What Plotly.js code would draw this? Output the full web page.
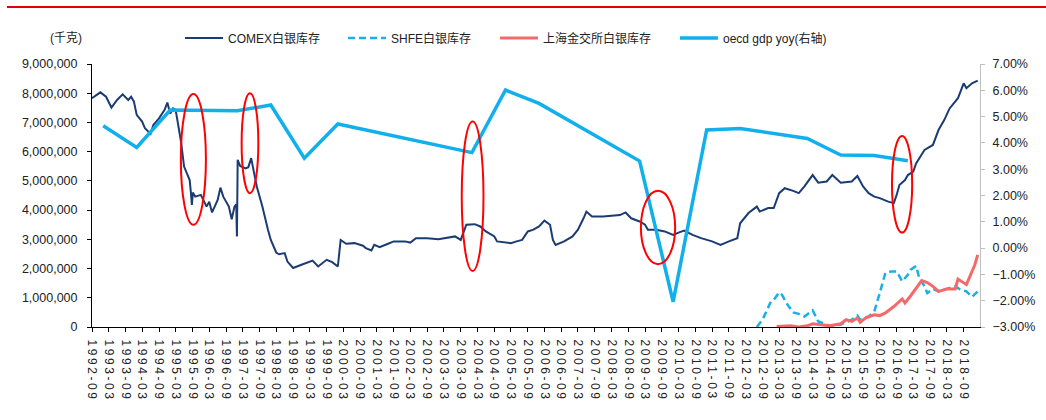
<!DOCTYPE html>
<html>
<head>
<meta charset="utf-8">
<script src="https://cdn.plot.ly/plotly-3.0.1.min.js"></script>
<style>
  html, body { margin: 0; padding: 0; background: #fff; }
  #chart { width: 1046px; height: 420px; }
  .xtick text { letter-spacing: 2.6px; }
</style>
</head>
<body>
<div id="chart"></div>
<script>
// ---------- DATA ----------
// COMEX silver inventory, millions of kg (axis is in 千克)
const comexDates = [
  "1992-09","1992-12","1993-02","1993-04","1993-06","1993-08","1993-10","1993-11","1993-12",
  "1994-01","1994-03","1994-04","1994-06","1994-07","1994-09","1994-11","1994-12",
  "1995-01","1995-02","1995-03","1995-04","1995-05","1995-06","1995-07","1995-08-01","1995-08-15","1995-08-25","1995-09-05","1995-10","1995-12",
  "1996-02","1996-03","1996-04","1996-06","1996-07","1996-08","1996-10","1996-11","1996-12-01","1996-12-20","1996-12-28",
  "1997-01-05","1997-02","1997-04","1997-05","1997-06","1997-07","1997-08","1997-10","1997-11","1997-12",
  "1998-01","1998-03","1998-04","1998-06","1998-07","1998-09","1998-12",
  "1999-02","1999-04","1999-06","1999-09","1999-11",
  "2000-01","2000-02","2000-04","2000-07","2000-10","2000-11",
  "2001-01","2001-02","2001-04","2001-07","2001-09",
  "2002-01","2002-03","2002-05","2002-09",
  "2003-01","2003-04","2003-07","2003-09","2003-11",
  "2004-02","2004-04","2004-06","2004-09","2004-10",
  "2005-01","2005-03","2005-05","2005-07","2005-09","2005-11",
  "2006-01","2006-03","2006-05","2006-06","2006-07","2006-10",
  "2007-01","2007-03","2007-05","2007-06","2007-08","2007-12",
  "2008-03","2008-06","2008-08","2008-10",
  "2009-01","2009-03","2009-04","2009-07","2009-10",
  "2010-01","2010-03","2010-05","2010-08","2010-11",
  "2011-03","2011-06","2011-09","2011-12",
  "2012-01","2012-04","2012-07","2012-08","2012-11",
  "2013-01","2013-03","2013-05","2013-08","2013-10","2013-12",
  "2014-03","2014-05","2014-08","2014-10",
  "2015-01","2015-05","2015-07","2015-09","2015-11",
  "2016-01","2016-03","2016-06","2016-08","2016-09","2016-10","2016-12",
  "2017-01","2017-03","2017-04","2017-07","2017-10","2017-12",
  "2018-02","2018-04","2018-07","2018-09","2018-10","2018-12","2019-02"
];
const comexMillionKg = [
  7.83,8.03,7.88,7.51,7.77,7.96,7.77,7.88,7.72,
  7.26,7.03,6.80,6.61,6.91,7.14,7.43,7.68,
  7.31,7.48,7.43,6.86,6.29,5.49,5.26,5.03,4.58,4.18,4.60,4.46,4.52,
  4.12,4.29,3.92,4.35,4.77,4.46,4.12,3.69,4.12,4.20,3.10,
  5.72,5.51,5.43,5.47,5.78,5.32,4.81,4.12,3.67,3.33,
  2.98,2.55,2.49,2.53,2.24,2.02,2.13,
  2.19,2.27,2.07,2.30,2.22,
  2.07,2.98,2.85,2.87,2.78,2.70,
  2.62,2.81,2.73,2.85,2.93,
  2.93,2.89,3.04,3.04,
  3.00,3.04,3.10,2.98,3.50,
  3.52,3.44,3.27,3.10,2.93,
  2.89,2.87,2.93,2.98,3.27,3.33,
  3.44,3.64,3.50,2.98,2.81,2.93,
  3.10,3.33,3.72,3.95,3.78,3.78,
  3.81,3.83,3.92,3.72,
  3.61,3.50,3.33,3.33,3.27,
  3.15,3.23,3.30,3.15,3.04,
  2.93,2.81,2.93,3.04,
  3.55,3.90,4.12,3.95,4.07,
  4.07,4.58,4.75,4.66,4.58,4.81,
  5.20,4.94,4.98,5.20,
  4.94,4.98,5.17,4.81,4.58,
  4.46,4.41,4.29,4.24,4.52,4.86,5.03,
  5.20,5.32,5.60,6.06,6.23,6.74,
  7.08,7.48,7.83,8.34,8.17,8.34,8.43
];

// SHFE silver inventory, millions of kg
const shfeDates = [
  "2012-07","2012-09","2012-12","2013-01","2013-03","2013-04","2013-06","2013-08","2013-10","2013-12",
  "2014-03","2014-05","2014-08","2014-10",
  "2015-01","2015-03","2015-05","2015-07","2015-08","2015-11",
  "2016-01","2016-03","2016-05","2016-07","2016-09","2016-11",
  "2017-01","2017-02","2017-04","2017-05","2017-07","2017-08","2017-10","2017-12",
  "2018-03","2018-06","2018-08","2018-10","2018-12","2019-02"
];
const shfeMillionKg = [
  0.00,0.25,0.87,0.93,1.18,1.10,0.76,0.50,0.45,0.36,
  0.57,0.19,0.08,0.02,
  0.08,0.16,0.25,0.39,0.25,0.36,
  0.53,1.16,1.85,1.90,1.90,1.56,
  1.79,1.96,2.09,1.73,1.39,1.16,1.30,1.22,
  1.30,1.39,1.27,1.22,1.03,1.22
];

// Shanghai Gold Exchange silver inventory, millions of kg
const sgeDates = [
  "2013-02","2013-07","2013-10","2014-01","2014-03","2014-05","2014-09",
  "2015-01","2015-03","2015-05","2015-07","2015-08","2015-10",
  "2016-01","2016-03","2016-05","2016-08","2016-11","2016-12",
  "2017-02","2017-04","2017-06","2017-08","2017-10","2017-12",
  "2018-03","2018-06","2018-07","2018-10","2018-12","2019-01","2019-02"
];
const sgeMillionKg = [
  0.02,0.04,0.00,0.04,0.11,0.08,0.04,
  0.11,0.25,0.19,0.31,0.16,0.31,
  0.42,0.39,0.48,0.70,0.96,0.82,
  1.07,1.33,1.59,1.52,1.39,1.22,
  1.30,1.30,1.64,1.45,1.90,2.13,2.47
];

// OECD GDP yoy, % (right axis) - visible vertices only
const oecdDates = [
  "1993-01","1994-01","1995-01","1997-01","1998-01","1999-01","2000-01","2004-01",
  "2005-01","2006-01","2009-01","2010-01","2011-01","2012-01","2014-01","2015-01","2016-01","2017-01"
];
const oecdPct = [
  4.65,3.83,5.25,5.22,5.44,3.42,4.72,3.63,
  6.01,5.50,3.31,-2.04,4.49,4.55,4.17,3.54,3.52,3.32
];

// Tick / text labels
const seriesNames = ["COMEX白银库存", "SHFE白银库存", "上海金交所白银库存", "oecd gdp yoy(右轴)"];
const unitLabel = "(千克)";

// ---------- CHART ----------
const FONT = "Liberation Sans, Arial, Noto Sans CJK SC, sans-serif";
const toKg = a => a.map(v => v * 1e6);

const traces = [
  { x: comexDates, y: toKg(comexMillionKg), name: seriesNames[0], type: "scatter", mode: "lines",
    line: { color: "#1B3C73", width: 2 }, legend: "legend", yaxis: "y" },
  { x: shfeDates, y: toKg(shfeMillionKg), name: seriesNames[1], type: "scatter", mode: "lines",
    line: { color: "#1AAFE6", width: 2.5, dash: "7px,4px" }, legend: "legend2", yaxis: "y" },
  { x: sgeDates, y: toKg(sgeMillionKg), name: seriesNames[2], type: "scatter", mode: "lines",
    line: { color: "#F46A6A", width: 3 }, legend: "legend3", yaxis: "y" },
  { x: oecdDates, y: oecdPct, name: seriesNames[3], type: "scatter", mode: "lines",
    line: { color: "#11B0EC", width: 3.5 }, legend: "legend4", yaxis: "y2" }
];

// red ellipses highlighting episodes (data coords)
const ell = (x0, x1, y0, y1) => ({
  type: "circle", xref: "x", yref: "y", x0: x0, x1: x1, y0: y0 * 1e6, y1: y1 * 1e6,
  line: { color: "#FF0000", width: 2 }, fillcolor: "rgba(0,0,0,0)", layer: "above"
});

const legendBase = (xpx) => ({
  x: (xpx - 97) / 888, xanchor: "left", y: 1.0987, yanchor: "middle",
  orientation: "h", bgcolor: "rgba(0,0,0,0)", borderwidth: 0, itemwidth: 38,
  font: { family: FONT, size: 12, color: "#222" }, itemclick: false, itemdoubleclick: false
});

const layout = {
  width: 1046, height: 420,
  margin: { l: 92, r: 66, t: 64, b: 93, pad: 0 },
  paper_bgcolor: "#fff", plot_bgcolor: "#fff",
  font: { family: FONT, size: 12, color: "#222" },
  showlegend: true,
  legend: legendBase(185),
  legend2: legendBase(348),
  legend3: legendBase(500),
  legend4: legendBase(680),
  xaxis: {
    type: "date", range: ["1992-09-01", "2019-02-26"],
    tick0: "1992-09-01", dtick: "M6", tickformat: "%Y-%m", tickangle: 90,
    showgrid: false, zeroline: false, showline: true, linecolor: "#000", linewidth: 1,
    ticks: "outside", ticklen: 4, tickcolor: "#000", tickwidth: 1, ticklabelstandoff: 5,
    tickfont: { family: FONT, size: 12, color: "#222" }, automargin: false
  },
  yaxis: {
    range: [0, 9e6], dtick: 1e6, tick0: 0, tickformat: ",d",
    showgrid: false, zeroline: false, showline: true, linecolor: "#000", linewidth: 1,
    ticks: "outside", ticklen: 4, tickcolor: "#000", ticklabelstandoff: 7,
    tickfont: { family: FONT, size: 12.5, color: "#222" }, automargin: false
  },
  yaxis2: {
    overlaying: "y", side: "right", range: [-3, 7], dtick: 1, tick0: -3,
    tickformat: ".2f", ticksuffix: "%",
    showgrid: false, zeroline: false, showline: true, linecolor: "#BFBFBF", linewidth: 1,
    ticks: "outside", ticklen: 4, tickcolor: "#BFBFBF", ticklabelstandoff: 5,
    tickfont: { family: FONT, size: 12.5, color: "#222" }, automargin: false
  },
  shapes: [
    ell("1995-04-27", "1996-01-25", 3.50, 7.97),
    ell("1997-02-17", "1997-08-18", 4.58, 8.00),
    ell("2003-09-12", "2004-05-06", 1.92, 7.03),
    ell("2009-01-15", "2010-01-23", 2.15, 4.66),
    ell("2016-07-12", "2017-02-17", 3.23, 6.54),
    { type: "line", xref: "paper", yref: "paper",
      x0: (7 - 92) / 888, x1: (1046 - 92) / 888, y0: 1 + (64 - 7) / 263, y1: 1 + (64 - 7) / 263,
      line: { color: "#E00000", width: 2 } }
  ],
  annotations: [
    { text: unitLabel, xref: "paper", yref: "paper", x: (66 - 92) / 888, y: 1 + (64 - 38) / 263,
      xanchor: "center", yanchor: "middle", showarrow: false,
      font: { family: FONT, size: 12, color: "#222" } }
  ]
};

Plotly.newPlot("chart", traces, layout, { displayModeBar: false, staticPlot: true });
</script>
</body>
</html>
